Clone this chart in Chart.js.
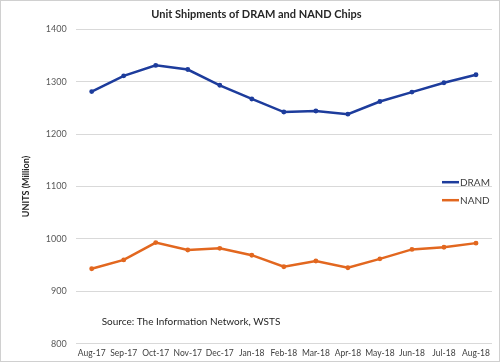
<!DOCTYPE html>
<html>
<head>
<meta charset="utf-8">
<script src="https://cdn.jsdelivr.net/npm/chart.js@4"></script>
<style>
  html, body { margin: 0; padding: 0; background: #fff; }
  #wrap { width: 500px; height: 362px; position: relative; }
</style>
</head>
<body>
<div id="wrap"><canvas id="shipChart"></canvas></div>
<script>
const months = ["Aug-17", "Sep-17", "Oct-17", "Nov-17", "Dec-17", "Jan-18", "Feb-18",
                "Mar-18", "Apr-18", "May-18", "Jun-18", "Jul-18", "Aug-18"];
const dramUnits = [1281, 1311, 1331, 1323, 1293, 1267, 1242, 1244, 1238, 1262, 1280, 1298, 1313];
const nandUnits = [943, 960, 993, 979, 982, 969, 947, 958, 945, 962, 980, 984, 992];
const yTicks = [800, 900, 1000, 1100, 1200, 1300, 1400];
const sourceNote = "Source: The Information Network, WSTS";

const fontFamily = "Lato, 'Open Sans', sans-serif";

// legend drawn by hand on the right side, like the excel original
const sideLegend = {
    id: "sideLegend",
    afterDraw(chart) {
        const ctx = chart.ctx;
        const area = chart.chartArea;
        ctx.save();
        ctx.font = "10px " + fontFamily;
        ctx.textBaseline = "middle";
        chart.data.datasets.forEach((ds, i) => {
            const y = area.top + 153 + i * 18;
            const x = area.right - 50;
            ctx.strokeStyle = ds.borderColor;
            ctx.lineWidth = 2.5;
            ctx.beginPath();
            ctx.moveTo(x, y);
            ctx.lineTo(x + 17, y);
            ctx.stroke();
            ctx.fillStyle = "#404040";
            ctx.fillText(ds.label, x + 18, y + 0.5);
        });
        // source note
        ctx.font = "10px " + fontFamily;
        ctx.fillStyle = "#262626";
        ctx.fillText(sourceNote, area.left + 26, area.bottom - 22);
        // outer frame
        ctx.strokeStyle = "#d0d0d0";
        ctx.lineWidth = 1;
        ctx.strokeRect(0.5, 0.5, chart.width - 1, chart.height - 1);
        ctx.restore();
    }
};

const ctx = document.getElementById("shipChart").getContext("2d");
new Chart(ctx, {
    type: "line",
    data: {
        labels: months,
        datasets: [
            {
                label: "DRAM",
                data: dramUnits,
                borderColor: "#1d3c9c",
                backgroundColor: "#1d3c9c",
                borderWidth: 2.5,
                pointRadius: 1.2,
                tension: 0
            },
            {
                label: "NAND",
                data: nandUnits,
                borderColor: "#e2671f",
                backgroundColor: "#e2671f",
                borderWidth: 2.5,
                pointRadius: 1.2,
                tension: 0
            }
        ]
    },
    options: {
        responsive: true,
        maintainAspectRatio: false,
        animation: false,
        layout: { padding: { left: 21, right: 8, top: 0, bottom: 0 } },
        plugins: {
            legend: { display: false },
            tooltip: { enabled: false },
            title: {
                display: true,
                text: "Unit Shipments of DRAM and NAND Chips",
                color: "#262626",
                font: { family: fontFamily, size: 11, weight: "bold" },
                padding: { top: 8, bottom: 8 }
            }
        },
        scales: {
            x: {
                offset: true,
                grid: { display: false, drawTicks: false },
                border: { display: false },
                ticks: {
                    color: "#404040",
                    font: { family: fontFamily, size: 8.5 },
                    padding: 4,
                    maxRotation: 0,
                    autoSkip: false
                }
            },
            y: {
                min: 800,
                max: 1400,
                afterBuildTicks(scale) {
                    scale.ticks = yTicks.map(v => ({ value: v }));
                },
                grid: { color: "#d9d9d9", drawTicks: false, lineWidth: 1 },
                border: { display: false },
                ticks: {
                    color: "#595959",
                    font: { family: fontFamily, size: 9 },
                    padding: 9,
                    callback: v => String(v)
                },
                title: {
                    display: true,
                    text: "UNITS (Million)",
                    color: "#262626",
                    font: { family: fontFamily, size: 9, weight: "bold" },
                    padding: { top: 0, bottom: 5 }
                }
            }
        }
    },
    plugins: [sideLegend]
});
</script>
</body>
</html>
